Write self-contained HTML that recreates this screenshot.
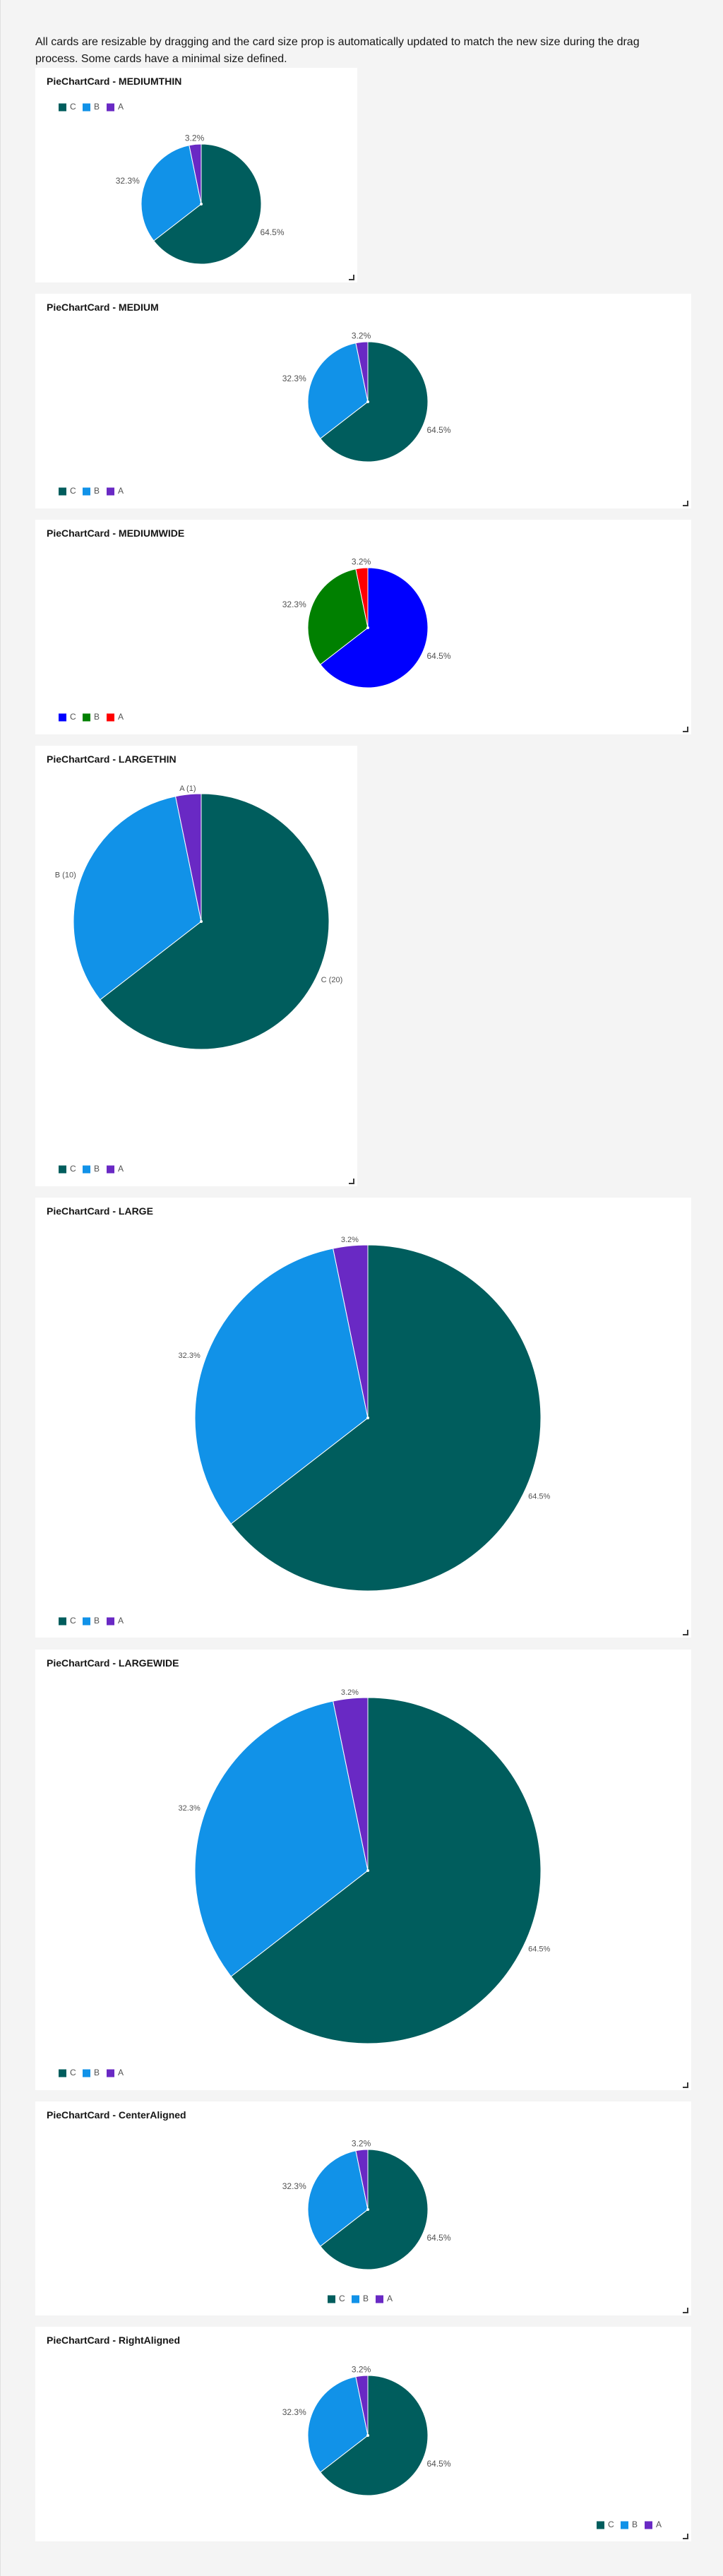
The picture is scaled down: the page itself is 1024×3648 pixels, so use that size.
<!DOCTYPE html>
<html><head><meta charset="utf-8">
<style>
html,body{margin:0;padding:0;}
body{width:1024px;height:3648px;background:#f4f4f4;position:relative;overflow:hidden;font-family:"Liberation Sans",sans-serif;color:#161616;border-left:1px solid #e0e0e0;box-sizing:border-box;}
.intro{position:absolute;left:49px;top:48px;width:935px;font-size:16px;line-height:24px;color:#161616;}
.card{position:absolute;background:#fff;}
.title{position:absolute;left:16px;top:10px;font-size:14px;font-weight:bold;line-height:18px;color:#161616;}
.handle{position:absolute;right:4px;bottom:3px;width:6px;height:6px;border-right:2px solid #393939;border-bottom:2px solid #393939;}
svg{position:absolute;left:0;top:0;}
</style></head><body>
<div class="intro">All cards are resizable by dragging and the card size prop is automatically updated to match the new size during the drag<br>process. Some cards have a minimal size defined.</div>
<div id="root"></div>
<script>
const categories = ['C','B','A'];
const values = [20, 10, 1];
const defaultColors = ['#005d5d','#1192e8','#6929c4'];
const altColors = ['#0000ff','#008000','#ff0000'];

const cards = [
 {name:'MEDIUMTHIN',x:49,y:96,w:456,h:304,cx:235,cy:193,r:85,legend:'top',lx:33,ly:56,colors:defaultColors,lbl:'pct'},
 {name:'MEDIUM',x:49,y:416,w:929,h:304,cx:471,cy:153,r:85,legend:'bottom',lx:33,ly:280,colors:defaultColors,lbl:'pct'},
 {name:'MEDIUMWIDE',x:49,y:736,w:929,h:304,cx:471,cy:153,r:85,legend:'bottom',lx:33,ly:280,colors:altColors,lbl:'pct'},
 {name:'LARGETHIN',x:49,y:1056,w:456,h:624,cx:235,cy:249,r:181,legend:'bottom',lx:33,ly:600,colors:defaultColors,lbl:'val',fs:11},
 {name:'LARGE',x:49,y:1696,w:929,h:623,cx:471,cy:312,r:245,legend:'bottom',lx:33,ly:600,colors:defaultColors,lbl:'pct',fs:11},
 {name:'LARGEWIDE',x:49,y:2336,w:929,h:624,cx:471,cy:313,r:245,legend:'bottom',lx:33,ly:600,colors:defaultColors,lbl:'pct',fs:11},
 {name:'CenterAligned',x:49,y:2976,w:929,h:303,cx:471,cy:153,r:85,legend:'center',lx:414,ly:280,colors:defaultColors,lbl:'pct'},
 {name:'RightAligned',x:49,y:3295,w:929,h:304,cx:471,cy:154,r:85,legend:'right',lx:795,ly:281,colors:defaultColors,lbl:'pct'}
];
const NS='http://www.w3.org/2000/svg';
const root=document.getElementById('root');
const total=values.reduce((a,b)=>a+b,0);
function pt(cx,cy,r,a){return [cx+r*Math.sin(a), cy-r*Math.cos(a)];}
cards.forEach(c=>{
  const card=document.createElement('div');
  card.className='card';
  
  
  card.style.cssText=`left:${c.x}px;top:${c.y}px;width:${c.w}px;height:${c.h}px;`;
  const svg=document.createElementNS(NS,'svg');
  svg.setAttribute('width',c.w);svg.setAttribute('height',c.h);
  
  
  card.appendChild(svg);
  let a0=0;
  values.forEach((v,i)=>{
    const a1=a0+v/total*2*Math.PI;
    const p0=pt(c.cx,c.cy,c.r,a0),p1=pt(c.cx,c.cy,c.r,a1);
    const large=(a1-a0)>Math.PI?1:0;
    const path=document.createElementNS(NS,'path');
    path.setAttribute('d',`M${c.cx},${c.cy}L${p0[0]},${p0[1]}A${c.r},${c.r} 0 ${large} 1 ${p1[0]},${p1[1]}Z`);
    path.setAttribute('fill',c.colors[i]);
    path.setAttribute('stroke','#fff');path.setAttribute('stroke-width','1');
    
    
    svg.appendChild(path);
    const am=(a0+a1)/2;
    const lp=pt(c.cx,c.cy,c.r+8,am);
    const t=document.createElementNS(NS,'text');
    const s=Math.sin(am);
    t.setAttribute('x',lp[0]);t.setAttribute('y',lp[1]);
    t.setAttribute('text-anchor',Math.abs(s)<0.2?'middle':(s>0?'start':'end'));
    t.setAttribute('dominant-baseline','middle');
    t.setAttribute('font-size',c.fs||12);
    t.setAttribute('fill','#525252');
    t.setAttribute('font-family','Liberation Sans, sans-serif');
    t.textContent=c.lbl==='val'?`${categories[i]} (${v})`:(v/total*100).toFixed(1)+'%';
    
    
    svg.appendChild(t);
    a0=a1;
  });
  const dot=document.createElementNS(NS,'circle');
  dot.setAttribute('cx',c.cx);dot.setAttribute('cy',c.cy);dot.setAttribute('r',2);dot.setAttribute('fill','#fff');
  svg.appendChild(dot);
  // legend
  categories.forEach((cat,i)=>{
    const x=c.lx+i*34;
    const rect=document.createElementNS(NS,'rect');
    rect.setAttribute('x',x);rect.setAttribute('y',c.ly-5.5);rect.setAttribute('width',11);rect.setAttribute('height',11);
    rect.setAttribute('fill',c.colors[i]);
    
    
    svg.appendChild(rect);
    const t=document.createElementNS(NS,'text');
    t.setAttribute('x',x+16);t.setAttribute('y',c.ly);t.setAttribute('dominant-baseline','middle');
    t.setAttribute('font-size',12);t.setAttribute('fill','#525252');
    t.setAttribute('font-family','Liberation Sans, sans-serif');
    t.textContent=cat;
    
    
    svg.appendChild(t);
  });
  const title=document.createElement('div');
  title.className='title';
  title.textContent='PieChartCard - '+c.name;
  
  
  card.appendChild(title);
  const h=document.createElement('div');
  h.className='handle';
  
  
  card.appendChild(h);
  root.appendChild(card);
});
</script>
</body></html>
